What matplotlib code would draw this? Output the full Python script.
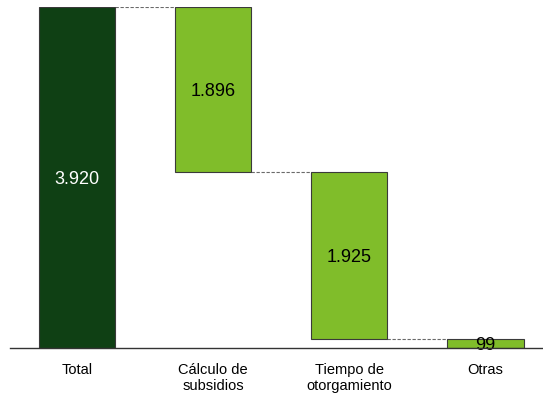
import matplotlib
matplotlib.use("Agg")
import matplotlib.pyplot as plt

plt.rcParams['font.family'] = ['Liberation Sans', 'DejaVu Sans']

categorias = ["Total", "Cálculo de\nsubsidios", "Tiempo de\notorgamiento", "Otras"]
valores = [3920, 1896, 1925, 99]
etiquetas = ["3.920", "1.896", "1.925", "99"]

verde_oscuro = "#0f4014"
verde_claro = "#80bd2a"

fig = plt.figure(figsize=(5.43, 3.98), dpi=100)
ax = fig.add_axes([10 / 543, 50 / 398, 533 / 543, 341 / 398])

# bases de la cascada
bases = [0]
resto = valores[0]
for v in valores[1:]:
    resto -= v
    bases.append(resto)

ancho = 0.56
xs = list(range(len(valores)))
colores = [verde_oscuro] + [verde_claro] * (len(valores) - 1)
ax.bar(xs, valores, bottom=bases, width=ancho, color=colores,
       edgecolor="#3a3a3a", linewidth=0.8, zorder=2)

# lineas de conexion
for i in range(len(valores) - 1):
    nivel = bases[i] if i > 0 else valores[0]
    ax.plot([xs[i] + ancho / 2, xs[i + 1] - ancho / 2], [nivel, nivel],
            linestyle=(0, (3, 1.5)), color="#6a6a6a", linewidth=0.8, zorder=1)

for i, (v, b, t) in enumerate(zip(valores, bases, etiquetas)):
    ax.text(xs[i], b + v / 2, t, ha="center", va="center_baseline", fontsize=13,
            color="white" if i == 0 else "black", zorder=3)

ax.set_xlim(-0.4926, 3.4228)
ax.set_ylim(0, 3920)
ax.set_xticks(xs)
ax.set_xticklabels(categorias, fontsize=10.5, linespacing=1.15)
ax.tick_params(axis="x", length=0, pad=11)
ax.set_yticks([])
for lado in ["top", "right", "left"]:
    ax.spines[lado].set_visible(False)
ax.spines["bottom"].set_color("#333333")
ax.spines["bottom"].set_linewidth(1.0)
ax.spines["bottom"].set_zorder(4)

fig.savefig("out.png", dpi=100)
